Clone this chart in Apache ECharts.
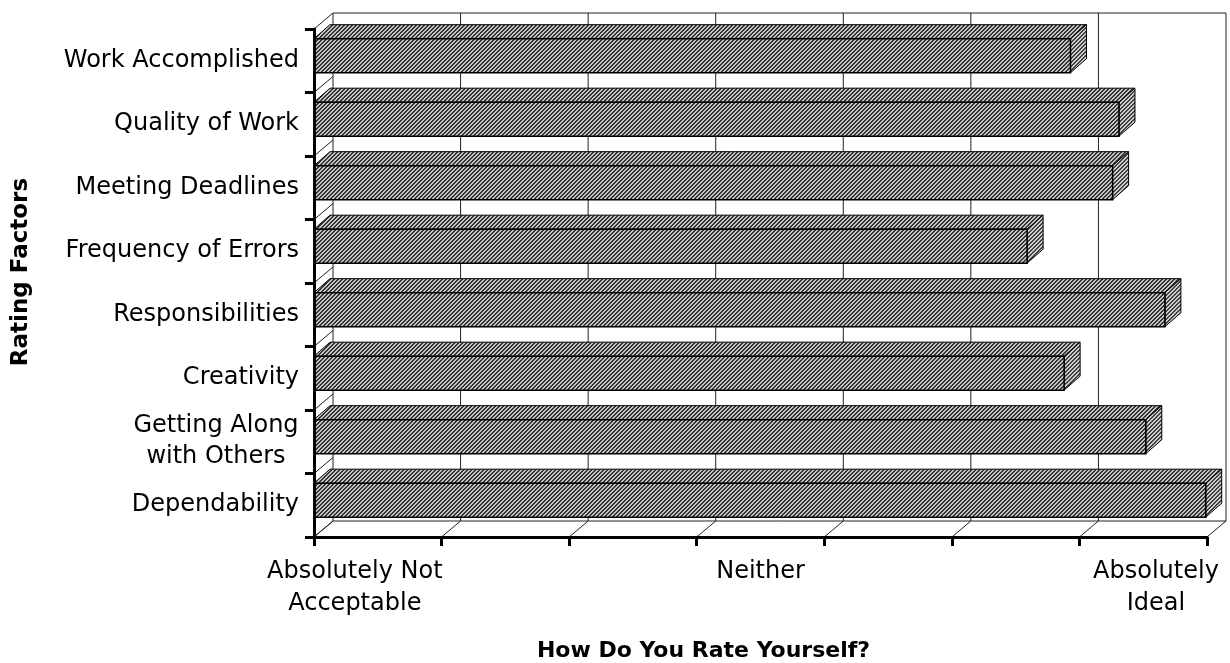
<!DOCTYPE html>
<html>
<head>
<meta charset="utf-8">
<script src="https://cdn.jsdelivr.net/npm/echarts@6/dist/echarts.min.js"></script>
<style>
html,body{margin:0;padding:0;background:#fff;}
#chart{width:1230px;height:663px;}
</style>
</head>
<body>
<div id="chart"></div>
<script>
// ---- data ----
const categories = ['Work Accomplished', 'Quality of Work', 'Meeting Deadlines', 'Frequency of Errors', 'Responsibilities', 'Creativity', 'Getting Along\nwith Others', 'Dependability'];
const ratings = [5.93, 6.31, 6.26, 5.59, 6.67, 5.88, 6.52, 6.99];
const xTicks = [0, 1, 2, 3, 4, 5, 6, 7];
const xTickLabels = ['Absolutely Not\nAcceptable', 'Neither', 'Absolutely\nIdeal'];
const xTickLabelAt = [0.32, 3.5, 6.6];
const xTitle = 'How Do You Rate Yourself?';
const yTitle = 'Rating Factors';

// ---- styling helpers ----
const FONT = 'DejaVu Sans';
function makeHatch(light, dark) {
  const c = document.createElement('canvas');
  c.width = 8; c.height = 8;
  const ctx = c.getContext('2d');
  const img = ctx.createImageData(8, 8);
  for (let y = 0; y < 8; y++) {
    for (let x = 0; x < 8; x++) {
      const i = (y * 8 + x) * 4;
      const col = ((x + y) % 4 < 2) ? dark : light;
      img.data[i] = col[0]; img.data[i + 1] = col[1]; img.data[i + 2] = col[2]; img.data[i + 3] = 255;
    }
  }
  ctx.putImageData(img, 0, 0);
  return { image: c, repeat: 'repeat' };
}
const hatchFront = makeHatch([196, 196, 196], [52, 52, 52]);
const hatchSide = makeHatch([205, 205, 205], [66, 66, 66]);

const WALL = [19, 16];  // depth of the frame
const BAR = [16, 14];   // depth of each bar

const chart = echarts.init(document.getElementById('chart'), null, { renderer: 'canvas' });

const option = {
  animation: false,
  backgroundColor: '#fff',
  grid: { left: 314, right: 23, top: 29, bottom: 126, containLabel: false, outerBoundsMode: 'none' },
  xAxis: [
    {
      type: 'value', min: 0, max: 7, interval: 1, z: 10,
      axisLine: { show: true, lineStyle: { color: '#000', width: 3 } },
      axisTick: { show: true, length: 9, lineStyle: { color: '#000', width: 3 } },
      axisLabel: { show: false },
      splitLine: { show: false },
      name: xTitle, nameLocation: 'middle', nameGap: 103,
      nameTextStyle: { fontFamily: FONT, fontSize: 22, fontWeight: 'bold', color: '#000', padding: [0, 114, 0, 0] }
    },
    {
      type: 'value', min: 0, max: 7, position: 'bottom', z: 10,
      axisLine: { show: false }, axisTick: { show: false }, splitLine: { show: false },
      axisLabel: {
        show: true, customValues: xTickLabelAt, margin: 19,
        fontFamily: FONT, fontSize: 24, lineHeight: 32, color: '#000',
        formatter: function (v) {
          for (let i = 0; i < xTickLabelAt.length; i++) {
            if (Math.abs(v - xTickLabelAt[i]) < 1e-6) return xTickLabels[i];
          }
          return '';
        }
      }
    }
  ],
  yAxis: {
    type: 'category', data: categories, inverse: true, z: 10,
    axisLine: { show: true, lineStyle: { color: '#000', width: 3 } },
    axisTick: { show: true, length: 9, lineStyle: { color: '#000', width: 3 } },
    axisLabel: {
      margin: 15, fontFamily: FONT, fontSize: 24, lineHeight: 31, color: '#000',
      formatter: function (v) {
        if (v.indexOf('\n') >= 0) return v.split('\n').map(s => '{c|' + s + '}').join('\n');
        return v;
      },
      rich: { c: { width: 166, align: 'center', fontFamily: FONT, fontSize: 24, lineHeight: 31, color: '#000' } }
    },
    splitLine: { show: false },
    name: yTitle, nameLocation: 'middle', nameRotate: 90, nameGap: 281,
    nameTextStyle: { fontFamily: FONT, fontSize: 23, fontWeight: 'bold', color: '#000', padding: [0, 0, 0, 22] }
  },
  series: [
    {
      // 3D frame: back wall grid lines, floor and left wall diagonals
      type: 'custom', z: 1, clip: false, silent: true,
      xAxisIndex: 0, yAxisIndex: 0,
      data: xTicks.map(v => [v, 0]),
      encode: { x: 0, y: 1 },
      renderItem: function (params, api) {
        const v = api.value(0);
        const bh = api.size([0, 1])[1];
        const p = api.coord([v, 0]);
        const top = p[1] - bh / 2;
        const bottom = api.coord([v, categories.length - 1])[1] + bh / 2;
        const x = p[0];
        const ls = { stroke: '#222', lineWidth: 1, fill: null };
        const children = [
          { type: 'line', shape: { x1: x + WALL[0], y1: top - WALL[1], x2: x + WALL[0], y2: bottom - WALL[1] }, style: ls },
          { type: 'line', shape: { x1: x, y1: bottom, x2: x + WALL[0], y2: bottom - WALL[1] }, style: ls }
        ];
        if (params.dataIndex === 0) {
          const xEnd = api.coord([xTicks[xTicks.length - 1], 0])[0];
          children.push({ type: 'line', shape: { x1: x + WALL[0], y1: top - WALL[1], x2: xEnd + WALL[0], y2: top - WALL[1] }, style: ls });
          children.push({ type: 'line', shape: { x1: x + WALL[0], y1: bottom - WALL[1], x2: xEnd + WALL[0], y2: bottom - WALL[1] }, style: ls });
          for (let k = 0; k <= categories.length; k++) {
            const yy = top + k * bh;
            children.push({ type: 'line', shape: { x1: x, y1: yy, x2: x + WALL[0], y2: yy - WALL[1] }, style: ls });
          }
        }
        return { type: 'group', children: children };
      }
    },
    {
      // 3D bars
      type: 'custom', z: 2, clip: false,
      xAxisIndex: 0, yAxisIndex: 0,
      data: ratings.map((v, i) => [v, i]),
      encode: { x: 0, y: 1 },
      renderItem: function (params, api) {
        const v = api.value(0), idx = api.value(1);
        const p0 = api.coord([0, idx]);
        const p1 = api.coord([v, idx]);
        const bh = api.size([0, 1])[1];
        const h = bh * 0.535;
        const yc = p0[1] - bh * 0.08;
        const x0 = p0[0], x1 = p1[0], t = yc - h / 2, b = yc + h / 2;
        return {
          type: 'group',
          children: [
            { type: 'polygon', shape: { points: [[x0, t], [x0 + BAR[0], t - BAR[1]], [x1 + BAR[0], t - BAR[1]], [x1, t]] },
              style: { fill: hatchFront, stroke: '#000', lineWidth: 1 } },
            { type: 'polygon', shape: { points: [[x1, t], [x1 + BAR[0], t - BAR[1]], [x1 + BAR[0], b - BAR[1]], [x1, b]] },
              style: { fill: hatchSide, stroke: '#000', lineWidth: 1 } },
            { type: 'rect', shape: { x: x0, y: t, width: x1 - x0, height: h },
              style: { fill: hatchFront, stroke: '#000', lineWidth: 1.5 } }
          ]
        };
      }
    }
  ]
};
chart.setOption(option);
</script>
</body>
</html>
